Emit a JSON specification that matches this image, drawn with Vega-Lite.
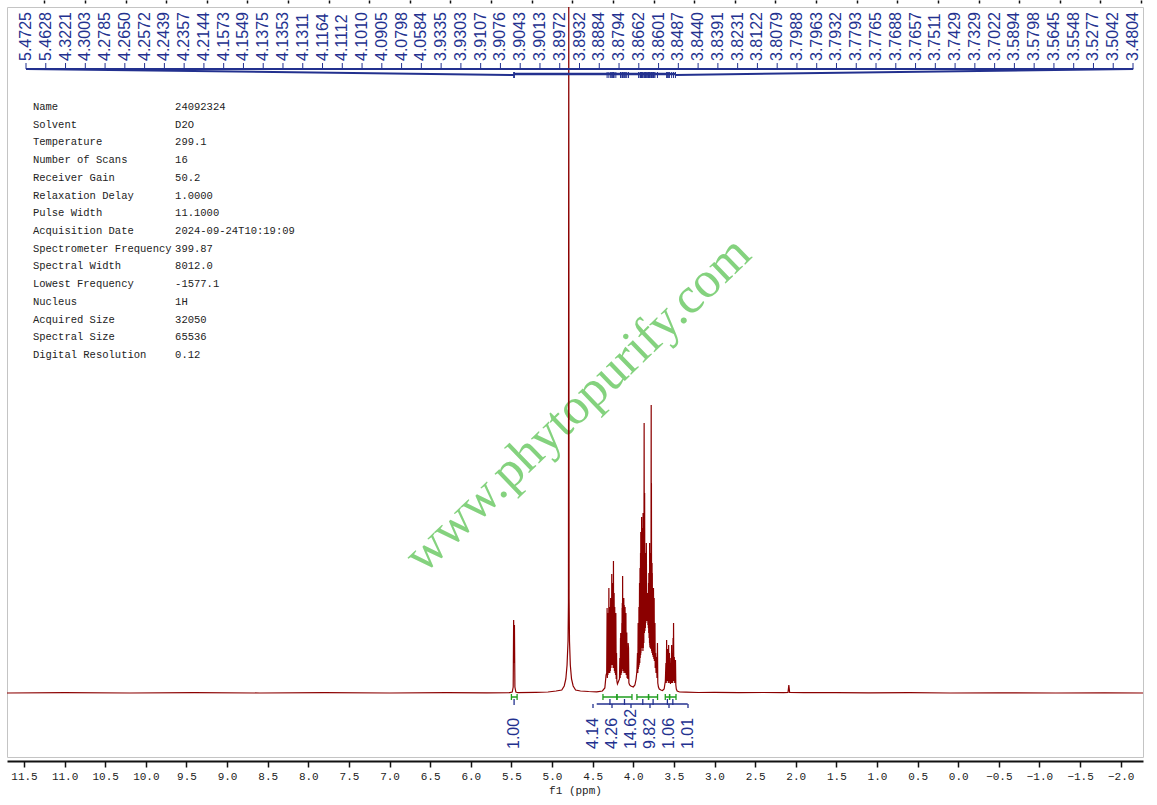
{
  "$schema": "https://vega.github.io/schema/vega-lite/v6.json",
  "description": "1H NMR spectrum of sample 24092324 in D2O",
  "width": 1136,
  "height": 750,
  "autosize": "none",
  "padding": {"left": 7, "top": 7, "right": 14, "bottom": 48},
  "background": "white",
  "config": {"view": {"stroke": "#c4c4c4", "strokeWidth": 1}},
  "datasets": {
    "spectrum": [
      {"ppm": 11.709, "intensity": 0}, {"ppm": 11.0, "intensity": 0.3}, {"ppm": 10.2, "intensity": 0},
      {"ppm": 9.4, "intensity": 0.3}, {"ppm": 8.6, "intensity": 0}, {"ppm": 7.8, "intensity": 0.3},
      {"ppm": 7.0, "intensity": 0}, {"ppm": 6.3, "intensity": 0.3}, {"ppm": 5.8, "intensity": 0.2},
      {"ppm": 5.52, "intensity": 0.3}, {"ppm": 5.49, "intensity": 1}, {"ppm": 5.478, "intensity": 6},
      {"ppm": 5.4725, "intensity": 73}, {"ppm": 5.468, "intensity": 30}, {"ppm": 5.4628, "intensity": 68},
      {"ppm": 5.457, "intensity": 6}, {"ppm": 5.445, "intensity": 1}, {"ppm": 5.42, "intensity": 0.3},
      {"ppm": 5.2, "intensity": 0.6}, {"ppm": 5.05, "intensity": 1}, {"ppm": 4.95, "intensity": 2},
      {"ppm": 4.88, "intensity": 3}, {"ppm": 4.85, "intensity": 7}, {"ppm": 4.83, "intensity": 14},
      {"ppm": 4.815, "intensity": 28}, {"ppm": 4.803, "intensity": 52}, {"ppm": 4.798, "intensity": 90},
      {"ppm": 4.794, "intensity": 720}, {"ppm": 4.79, "intensity": 95}, {"ppm": 4.785, "intensity": 52},
      {"ppm": 4.775, "intensity": 28}, {"ppm": 4.76, "intensity": 14}, {"ppm": 4.74, "intensity": 7},
      {"ppm": 4.71, "intensity": 3}, {"ppm": 4.65, "intensity": 2}, {"ppm": 4.55, "intensity": 1.5},
      {"ppm": 4.45, "intensity": 1.2}, {"ppm": 4.38, "intensity": 2}, {"ppm": 4.35, "intensity": 5},
      {"ppm": 4.335, "intensity": 18}, {"ppm": 4.327, "intensity": 20}, {"ppm": 4.3221, "intensity": 85},
      {"ppm": 4.319, "intensity": 15}, {"ppm": 4.315, "intensity": 70}, {"ppm": 4.312, "intensity": 18},
      {"ppm": 4.307, "intensity": 80}, {"ppm": 4.304, "intensity": 20}, {"ppm": 4.3003, "intensity": 105},
      {"ppm": 4.297, "intensity": 22}, {"ppm": 4.292, "intensity": 86}, {"ppm": 4.289, "intensity": 20},
      {"ppm": 4.285, "intensity": 75}, {"ppm": 4.282, "intensity": 22}, {"ppm": 4.2785, "intensity": 95},
      {"ppm": 4.275, "intensity": 25}, {"ppm": 4.271, "intensity": 86}, {"ppm": 4.268, "intensity": 28},
      {"ppm": 4.265, "intensity": 119}, {"ppm": 4.262, "intensity": 30}, {"ppm": 4.2572, "intensity": 110},
      {"ppm": 4.254, "intensity": 28}, {"ppm": 4.25, "intensity": 86}, {"ppm": 4.247, "intensity": 25},
      {"ppm": 4.2439, "intensity": 132}, {"ppm": 4.241, "intensity": 28}, {"ppm": 4.2357, "intensity": 100},
      {"ppm": 4.232, "intensity": 22}, {"ppm": 4.228, "intensity": 86}, {"ppm": 4.225, "intensity": 20},
      {"ppm": 4.221, "intensity": 70}, {"ppm": 4.218, "intensity": 18}, {"ppm": 4.2144, "intensity": 80},
      {"ppm": 4.21, "intensity": 14}, {"ppm": 4.206, "intensity": 40}, {"ppm": 4.202, "intensity": 12},
      {"ppm": 4.195, "intensity": 9}, {"ppm": 4.185, "intensity": 11}, {"ppm": 4.17, "intensity": 14},
      {"ppm": 4.165, "intensity": 35}, {"ppm": 4.161, "intensity": 15}, {"ppm": 4.1573, "intensity": 55},
      {"ppm": 4.156, "intensity": 20}, {"ppm": 4.1549, "intensity": 60}, {"ppm": 4.151, "intensity": 18},
      {"ppm": 4.147, "intensity": 50}, {"ppm": 4.144, "intensity": 20}, {"ppm": 4.1405, "intensity": 70},
      {"ppm": 4.139, "intensity": 22}, {"ppm": 4.1375, "intensity": 85}, {"ppm": 4.1363, "intensity": 25},
      {"ppm": 4.1353, "intensity": 90}, {"ppm": 4.133, "intensity": 25}, {"ppm": 4.1311, "intensity": 117},
      {"ppm": 4.128, "intensity": 24}, {"ppm": 4.124, "intensity": 86}, {"ppm": 4.121, "intensity": 22},
      {"ppm": 4.119, "intensity": 80}, {"ppm": 4.1164, "intensity": 95}, {"ppm": 4.114, "intensity": 20},
      {"ppm": 4.1112, "intensity": 88}, {"ppm": 4.108, "intensity": 22}, {"ppm": 4.104, "intensity": 75},
      {"ppm": 4.101, "intensity": 86}, {"ppm": 4.098, "intensity": 20}, {"ppm": 4.094, "intensity": 70},
      {"ppm": 4.0905, "intensity": 80}, {"ppm": 4.087, "intensity": 18}, {"ppm": 4.083, "intensity": 60},
      {"ppm": 4.0798, "intensity": 60}, {"ppm": 4.076, "intensity": 15}, {"ppm": 4.071, "intensity": 40},
      {"ppm": 4.067, "intensity": 14}, {"ppm": 4.063, "intensity": 50}, {"ppm": 4.0584, "intensity": 45},
      {"ppm": 4.054, "intensity": 10}, {"ppm": 4.045, "intensity": 8}, {"ppm": 4.03, "intensity": 7},
      {"ppm": 4.0, "intensity": 6}, {"ppm": 3.98, "intensity": 8}, {"ppm": 3.965, "intensity": 14},
      {"ppm": 3.955, "intensity": 22}, {"ppm": 3.948, "intensity": 40}, {"ppm": 3.944, "intensity": 20},
      {"ppm": 3.94, "intensity": 70}, {"ppm": 3.937, "intensity": 24}, {"ppm": 3.9335, "intensity": 60},
      {"ppm": 3.932, "intensity": 26}, {"ppm": 3.9303, "intensity": 86}, {"ppm": 3.927, "intensity": 28},
      {"ppm": 3.923, "intensity": 110}, {"ppm": 3.92, "intensity": 30}, {"ppm": 3.917, "intensity": 125},
      {"ppm": 3.914, "intensity": 35}, {"ppm": 3.9107, "intensity": 140}, {"ppm": 3.909, "intensity": 38},
      {"ppm": 3.9076, "intensity": 161}, {"ppm": 3.906, "intensity": 40}, {"ppm": 3.9043, "intensity": 150},
      {"ppm": 3.903, "intensity": 42}, {"ppm": 3.9013, "intensity": 130}, {"ppm": 3.899, "intensity": 45},
      {"ppm": 3.8972, "intensity": 176}, {"ppm": 3.895, "intensity": 50}, {"ppm": 3.8932, "intensity": 165},
      {"ppm": 3.891, "intensity": 48}, {"ppm": 3.8884, "intensity": 150}, {"ppm": 3.886, "intensity": 45},
      {"ppm": 3.883, "intensity": 140}, {"ppm": 3.881, "intensity": 42}, {"ppm": 3.8794, "intensity": 180},
      {"ppm": 3.876, "intensity": 45}, {"ppm": 3.873, "intensity": 150}, {"ppm": 3.87, "intensity": 50},
      {"ppm": 3.8662, "intensity": 270}, {"ppm": 3.863, "intensity": 60}, {"ppm": 3.8601, "intensity": 200},
      {"ppm": 3.857, "intensity": 62}, {"ppm": 3.853, "intensity": 140}, {"ppm": 3.851, "intensity": 65},
      {"ppm": 3.8487, "intensity": 130}, {"ppm": 3.846, "intensity": 70}, {"ppm": 3.844, "intensity": 120},
      {"ppm": 3.842, "intensity": 72}, {"ppm": 3.8391, "intensity": 150}, {"ppm": 3.835, "intensity": 75},
      {"ppm": 3.831, "intensity": 100}, {"ppm": 3.827, "intensity": 72}, {"ppm": 3.8231, "intensity": 100},
      {"ppm": 3.82, "intensity": 68}, {"ppm": 3.816, "intensity": 95}, {"ppm": 3.814, "intensity": 65},
      {"ppm": 3.8122, "intensity": 110}, {"ppm": 3.81, "intensity": 60}, {"ppm": 3.8079, "intensity": 120},
      {"ppm": 3.805, "intensity": 55}, {"ppm": 3.802, "intensity": 110}, {"ppm": 3.8, "intensity": 50},
      {"ppm": 3.7988, "intensity": 150}, {"ppm": 3.797, "intensity": 48}, {"ppm": 3.7963, "intensity": 140},
      {"ppm": 3.795, "intensity": 46}, {"ppm": 3.7932, "intensity": 130}, {"ppm": 3.79, "intensity": 45},
      {"ppm": 3.786, "intensity": 110}, {"ppm": 3.783, "intensity": 44}, {"ppm": 3.7793, "intensity": 288},
      {"ppm": 3.778, "intensity": 50}, {"ppm": 3.7765, "intensity": 210}, {"ppm": 3.774, "intensity": 42},
      {"ppm": 3.771, "intensity": 120}, {"ppm": 3.77, "intensity": 40}, {"ppm": 3.7688, "intensity": 130},
      {"ppm": 3.767, "intensity": 40}, {"ppm": 3.7657, "intensity": 120}, {"ppm": 3.762, "intensity": 38},
      {"ppm": 3.758, "intensity": 105}, {"ppm": 3.755, "intensity": 36}, {"ppm": 3.7511, "intensity": 105},
      {"ppm": 3.747, "intensity": 34}, {"ppm": 3.7429, "intensity": 95}, {"ppm": 3.74, "intensity": 32},
      {"ppm": 3.736, "intensity": 60}, {"ppm": 3.7329, "intensity": 70}, {"ppm": 3.73, "intensity": 25},
      {"ppm": 3.725, "intensity": 40}, {"ppm": 3.72, "intensity": 20}, {"ppm": 3.712, "intensity": 36},
      {"ppm": 3.708, "intensity": 15}, {"ppm": 3.7022, "intensity": 50}, {"ppm": 3.698, "intensity": 10},
      {"ppm": 3.69, "intensity": 6}, {"ppm": 3.68, "intensity": 4}, {"ppm": 3.66, "intensity": 3},
      {"ppm": 3.64, "intensity": 2.5}, {"ppm": 3.62, "intensity": 4}, {"ppm": 3.605, "intensity": 12},
      {"ppm": 3.598, "intensity": 30}, {"ppm": 3.594, "intensity": 10}, {"ppm": 3.5894, "intensity": 53},
      {"ppm": 3.586, "intensity": 12}, {"ppm": 3.583, "intensity": 40}, {"ppm": 3.5798, "intensity": 44},
      {"ppm": 3.576, "intensity": 12}, {"ppm": 3.572, "intensity": 35}, {"ppm": 3.568, "intensity": 10},
      {"ppm": 3.5645, "intensity": 48}, {"ppm": 3.561, "intensity": 12}, {"ppm": 3.5548, "intensity": 40},
      {"ppm": 3.551, "intensity": 10}, {"ppm": 3.546, "intensity": 30}, {"ppm": 3.542, "intensity": 9},
      {"ppm": 3.537, "intensity": 35}, {"ppm": 3.533, "intensity": 10}, {"ppm": 3.5277, "intensity": 48},
      {"ppm": 3.524, "intensity": 10}, {"ppm": 3.519, "intensity": 40}, {"ppm": 3.515, "intensity": 10},
      {"ppm": 3.51, "intensity": 55}, {"ppm": 3.507, "intensity": 14}, {"ppm": 3.5042, "intensity": 70},
      {"ppm": 3.5, "intensity": 12}, {"ppm": 3.495, "intensity": 36}, {"ppm": 3.49, "intensity": 10},
      {"ppm": 3.485, "intensity": 30}, {"ppm": 3.4804, "intensity": 33}, {"ppm": 3.476, "intensity": 8},
      {"ppm": 3.47, "intensity": 4}, {"ppm": 3.46, "intensity": 2}, {"ppm": 3.43, "intensity": 1},
      {"ppm": 3.35, "intensity": 0.8}, {"ppm": 3.2, "intensity": 0.5}, {"ppm": 3.0, "intensity": 0.6},
      {"ppm": 2.7, "intensity": 0.4}, {"ppm": 2.4, "intensity": 0.5}, {"ppm": 2.15, "intensity": 0.4},
      {"ppm": 2.095, "intensity": 0.6}, {"ppm": 2.085, "intensity": 8}, {"ppm": 2.075, "intensity": 0.5},
      {"ppm": 1.9, "intensity": 0.3}, {"ppm": 1.5, "intensity": 0.4}, {"ppm": 1.1, "intensity": 0.2},
      {"ppm": 0.6, "intensity": 0.3}, {"ppm": 0.1, "intensity": 0}, {"ppm": -0.5, "intensity": 0.2},
      {"ppm": -1.2, "intensity": 0}, {"ppm": -1.8, "intensity": 0.2}, {"ppm": -2.2745, "intensity": 0}
    ],
    "peaks": [
      {"label": "5.4725", "ppm": 5.4725}, {"label": "5.4628", "ppm": 5.4628}, {"label": "4.3221", "ppm": 4.3221},
      {"label": "4.3003", "ppm": 4.3003}, {"label": "4.2785", "ppm": 4.2785}, {"label": "4.2650", "ppm": 4.265},
      {"label": "4.2572", "ppm": 4.2572}, {"label": "4.2439", "ppm": 4.2439}, {"label": "4.2357", "ppm": 4.2357},
      {"label": "4.2144", "ppm": 4.2144}, {"label": "4.1573", "ppm": 4.1573}, {"label": "4.1549", "ppm": 4.1549},
      {"label": "4.1375", "ppm": 4.1375}, {"label": "4.1353", "ppm": 4.1353}, {"label": "4.1311", "ppm": 4.1311},
      {"label": "4.1164", "ppm": 4.1164}, {"label": "4.1112", "ppm": 4.1112}, {"label": "4.1010", "ppm": 4.101},
      {"label": "4.0905", "ppm": 4.0905}, {"label": "4.0798", "ppm": 4.0798}, {"label": "4.0584", "ppm": 4.0584},
      {"label": "3.9335", "ppm": 3.9335}, {"label": "3.9303", "ppm": 3.9303}, {"label": "3.9107", "ppm": 3.9107},
      {"label": "3.9076", "ppm": 3.9076}, {"label": "3.9043", "ppm": 3.9043}, {"label": "3.9013", "ppm": 3.9013},
      {"label": "3.8972", "ppm": 3.8972}, {"label": "3.8932", "ppm": 3.8932}, {"label": "3.8884", "ppm": 3.8884},
      {"label": "3.8794", "ppm": 3.8794}, {"label": "3.8662", "ppm": 3.8662}, {"label": "3.8601", "ppm": 3.8601},
      {"label": "3.8487", "ppm": 3.8487}, {"label": "3.8440", "ppm": 3.844}, {"label": "3.8391", "ppm": 3.8391},
      {"label": "3.8231", "ppm": 3.8231}, {"label": "3.8122", "ppm": 3.8122}, {"label": "3.8079", "ppm": 3.8079},
      {"label": "3.7988", "ppm": 3.7988}, {"label": "3.7963", "ppm": 3.7963}, {"label": "3.7932", "ppm": 3.7932},
      {"label": "3.7793", "ppm": 3.7793}, {"label": "3.7765", "ppm": 3.7765}, {"label": "3.7688", "ppm": 3.7688},
      {"label": "3.7657", "ppm": 3.7657}, {"label": "3.7511", "ppm": 3.7511}, {"label": "3.7429", "ppm": 3.7429},
      {"label": "3.7329", "ppm": 3.7329}, {"label": "3.7022", "ppm": 3.7022}, {"label": "3.5894", "ppm": 3.5894},
      {"label": "3.5798", "ppm": 3.5798}, {"label": "3.5645", "ppm": 3.5645}, {"label": "3.5548", "ppm": 3.5548},
      {"label": "3.5277", "ppm": 3.5277}, {"label": "3.5042", "ppm": 3.5042}, {"label": "3.4804", "ppm": 3.4804}
    ],
    "integrals": [
      {"label": "1.00", "from": 5.5, "to": 5.43, "center": 5.467},
      {"label": "4.14", "from": 4.373, "to": 4.201, "center": 4.287},
      {"label": "4.26", "from": 4.201, "to": 4.016, "center": 4.108},
      {"label": "14.62", "from": 3.955, "to": 3.812, "center": 3.883},
      {"label": "9.82", "from": 3.812, "to": 3.701, "center": 3.756},
      {"label": "1.06", "from": 3.606, "to": 3.553, "center": 3.58},
      {"label": "1.01", "from": 3.553, "to": 3.474, "center": 3.513}
    ],
    "params": [
      {"param": "Name", "value": "24092324"},
      {"param": "Solvent", "value": "D2O"},
      {"param": "Temperature", "value": "299.1"},
      {"param": "Number of Scans", "value": "16"},
      {"param": "Receiver Gain", "value": "50.2"},
      {"param": "Relaxation Delay", "value": "1.0000"},
      {"param": "Pulse Width", "value": "11.1000"},
      {"param": "Acquisition Date", "value": "2024-09-24T10:19:09"},
      {"param": "Spectrometer Frequency", "value": "399.87"},
      {"param": "Spectral Width", "value": "8012.0"},
      {"param": "Lowest Frequency", "value": "-1577.1"},
      {"param": "Nucleus", "value": "1H"},
      {"param": "Acquired Size", "value": "32050"},
      {"param": "Spectral Size", "value": "65536"},
      {"param": "Digital Resolution", "value": "0.12"}
    ]
  },
  "layer": [
    {
      "layer": [
        {
          "data": {"values": [{"site": "www.phytopurify.com"}]},
          "mark": {"type": "text", "font": "Liberation Serif", "fontSize": 51, "angle": 316, "align": "center", "baseline": "middle", "color": "#84d27e"},
          "encoding": {
            "x": {"datum": 4.68, "type": "quantitative", "scale": {"domain": [11.709, -2.2745], "nice": false, "zero": false}, "axis": {
              "values": [11.5, 11, 10.5, 10, 9.5, 9, 8.5, 8, 7.5, 7, 6.5, 6, 5.5, 5, 4.5, 4, 3.5, 3, 2.5, 2, 1.5, 1, 0.5, 0, -0.5, -1, -1.5, -2],
              "format": ".1f", "labelOverlap": false, "offset": 4, "grid": false,
              "tickSize": 6, "tickWidth": 1.5, "tickColor": "#111",
              "domainWidth": 2, "domainColor": "#111", "labelFont": "Liberation Mono", "labelFontSize": 11,
              "labelColor": "#222", "labelPadding": 3, "labelFlush": false, "title": "f1 (ppm)",
              "titleFont": "Liberation Mono", "titleFontSize": 11, "titleFontWeight": "normal", "titleColor": "#222", "titlePadding": 3
            }},
            "y": {"datum": 288, "type": "quantitative", "scale": {"domain": [-64, 686], "nice": false, "zero": false}, "axis": null},
            "text": {"field": "site"}
          }
        },
        {
          "data": {"name": "spectrum"},
          "mark": {"type": "line", "color": "#8b0000", "strokeWidth": 1.2, "clip": true},
          "encoding": {
            "x": {"field": "ppm", "type": "quantitative", "axis": null},
            "y": {"field": "intensity", "type": "quantitative", "axis": null}
          }
        },
        {
          "data": {"name": "peaks"},
          "mark": {"type": "rule", "color": "#23318f", "strokeWidth": 1},
          "encoding": {
            "x": {"field": "ppm", "type": "quantitative", "axis": null},
            "y": {"datum": 621},
            "y2": {"datum": 615}
          }
        },
        {
          "data": {"values": [{"part": "band"}]},
          "layer": [
            {
              "mark": {"type": "rule", "color": "#23318f", "strokeWidth": 2},
              "encoding": {"x": {"datum": 11.475, "type": "quantitative", "axis": null}, "x2": {"datum": -2.153}, "y": {"datum": 624}}
            },
            {
              "mark": {"type": "rule", "color": "#23318f", "strokeWidth": 2},
              "encoding": {"x": {"datum": 11.475, "type": "quantitative", "axis": null}, "x2": {"datum": 5.47}, "y": {"datum": 624}, "y2": {"datum": 618}}
            },
            {
              "mark": {"type": "rule", "color": "#23318f", "strokeWidth": 2.5},
              "encoding": {"x": {"datum": 5.47, "type": "quantitative", "axis": null}, "x2": {"datum": 3.48}, "y": {"datum": 619}}
            },
            {
              "mark": {"type": "rule", "color": "#23318f", "strokeWidth": 2},
              "encoding": {"x": {"datum": -2.153, "type": "quantitative", "axis": null}, "x2": {"datum": 3.48}, "y": {"datum": 624}, "y2": {"datum": 618}}
            },
            {
              "mark": {"type": "rule", "color": "#23318f", "strokeWidth": 1.3},
              "encoding": {"x": {"datum": 4.45, "type": "quantitative", "axis": null}, "x2": {"datum": 3.33}, "y": {"datum": -11}}
            }
          ]
        },
        {
          "data": {"name": "integrals"},
          "mark": {"type": "rule", "color": "#1f9e1f", "strokeWidth": 1.5},
          "encoding": {
            "x": {"field": "from", "type": "quantitative", "axis": null},
            "x2": {"field": "to"},
            "y": {"datum": -4}
          }
        },
        {
          "data": {"name": "integrals"},
          "mark": {"type": "rule", "color": "#1f9e1f", "strokeWidth": 1.3},
          "encoding": {
            "x": {"field": "from", "type": "quantitative", "axis": null},
            "y": {"datum": -1},
            "y2": {"datum": -7}
          }
        },
        {
          "data": {"name": "integrals"},
          "mark": {"type": "rule", "color": "#1f9e1f", "strokeWidth": 1.3},
          "encoding": {
            "x": {"field": "to", "type": "quantitative", "axis": null},
            "y": {"datum": -1},
            "y2": {"datum": -7}
          }
        },
        {
          "data": {"name": "integrals"},
          "mark": {"type": "rule", "color": "#23318f", "strokeWidth": 1.3},
          "encoding": {
            "x": {"field": "center", "type": "quantitative", "axis": null},
            "y": {"datum": -6},
            "y2": {"datum": -12}
          }
        },
        {
          "data": {"name": "integrals"},
          "transform": [{"filter": "datum.label == '1.00'"}],
          "mark": {"type": "text", "font": "Liberation Sans", "fontSize": 16, "angle": 270, "align": "left", "baseline": "middle", "color": "#23318f"},
          "encoding": {
            "x": {"field": "center", "type": "quantitative", "axis": null},
            "y": {"datum": -56},
            "text": {"field": "label"}
          }
        }
      ],
      "resolve": {"axis": {"x": "independent"}}
    },
    {
      "data": {"name": "peaks"},
      "layer": [
        {
          "mark": {"type": "text", "font": "Liberation Sans", "fontSize": 16, "angle": 270, "align": "left", "baseline": "middle", "color": "#23318f"},
          "encoding": {
            "x": {"field": "label", "type": "nominal", "sort": null, "scale": {"type": "point", "range": [19, 1126], "padding": 0}, "axis": null},
            "y": {"datum": 632, "type": "quantitative", "scale": {"domain": [-64, 686], "nice": false, "zero": false}, "axis": null},
            "text": {"field": "label"}
          }
        },
        {
          "mark": {"type": "rule", "color": "#23318f", "strokeWidth": 1},
          "encoding": {
            "x": {"field": "label", "type": "nominal", "sort": null, "axis": null},
            "y": {"datum": 630},
            "y2": {"datum": 624}
          }
        }
      ]
    },
    {
      "data": {"name": "integrals"},
      "transform": [{"filter": "datum.label != '1.00'"}],
      "layer": [
        {
          "mark": {"type": "text", "font": "Liberation Sans", "fontSize": 16, "angle": 270, "align": "left", "baseline": "middle", "color": "#23318f"},
          "encoding": {
            "x": {"field": "label", "type": "nominal", "sort": null, "scale": {"type": "point", "range": [586, 681], "padding": 0}, "axis": null},
            "y": {"datum": -56, "type": "quantitative", "scale": {"domain": [-64, 686], "nice": false, "zero": false}, "axis": null},
            "text": {"field": "label"}
          }
        },
        {
          "mark": {"type": "rule", "color": "#23318f", "strokeWidth": 1.3},
          "encoding": {
            "x": {"field": "label", "type": "nominal", "sort": null, "axis": null},
            "y": {"datum": -11},
            "y2": {"datum": -15}
          }
        }
      ]
    },
    {
      "data": {"name": "params"},
      "layer": [
        {
          "mark": {"type": "text", "font": "Liberation Mono", "fontSize": 10.5, "align": "left", "baseline": "middle", "color": "#222"},
          "encoding": {
            "x": {"datum": 11.39, "type": "quantitative", "scale": {"domain": [11.709, -2.2745], "nice": false, "zero": false}, "axis": {
              "values": [11.25, 10.75, 10.25, 9.75, 9.25, 8.75, 8.25, 7.75, 7.25, 6.75, 6.25, 5.75, 5.25, 4.75, 4.25, 3.75, 3.25, 2.75, 2.25, 1.75, 1.25, 0.75, 0.25, -0.25, -0.75, -1.25, -1.75, -2.25],
              "labels": false, "domain": false, "grid": false, "title": null, "offset": 4, "tickSize": 3, "tickWidth": 1.5, "tickColor": "#111"
            }},
            "y": {"field": "param", "type": "nominal", "sort": null, "scale": {"type": "point", "range": [100, 348], "padding": 0}, "axis": null},
            "text": {"field": "param"}
          }
        },
        {
          "mark": {"type": "text", "font": "Liberation Mono", "fontSize": 10.5, "align": "left", "baseline": "middle", "color": "#222"},
          "encoding": {
            "x": {"datum": 9.64, "type": "quantitative", "axis": null},
            "y": {"field": "param", "type": "nominal", "sort": null, "axis": null},
            "text": {"field": "value"}
          }
        }
      ],
      "resolve": {"axis": {"x": "independent"}}
    }
  ],
  "resolve": {"scale": {"x": "independent", "y": "independent"}}
}
